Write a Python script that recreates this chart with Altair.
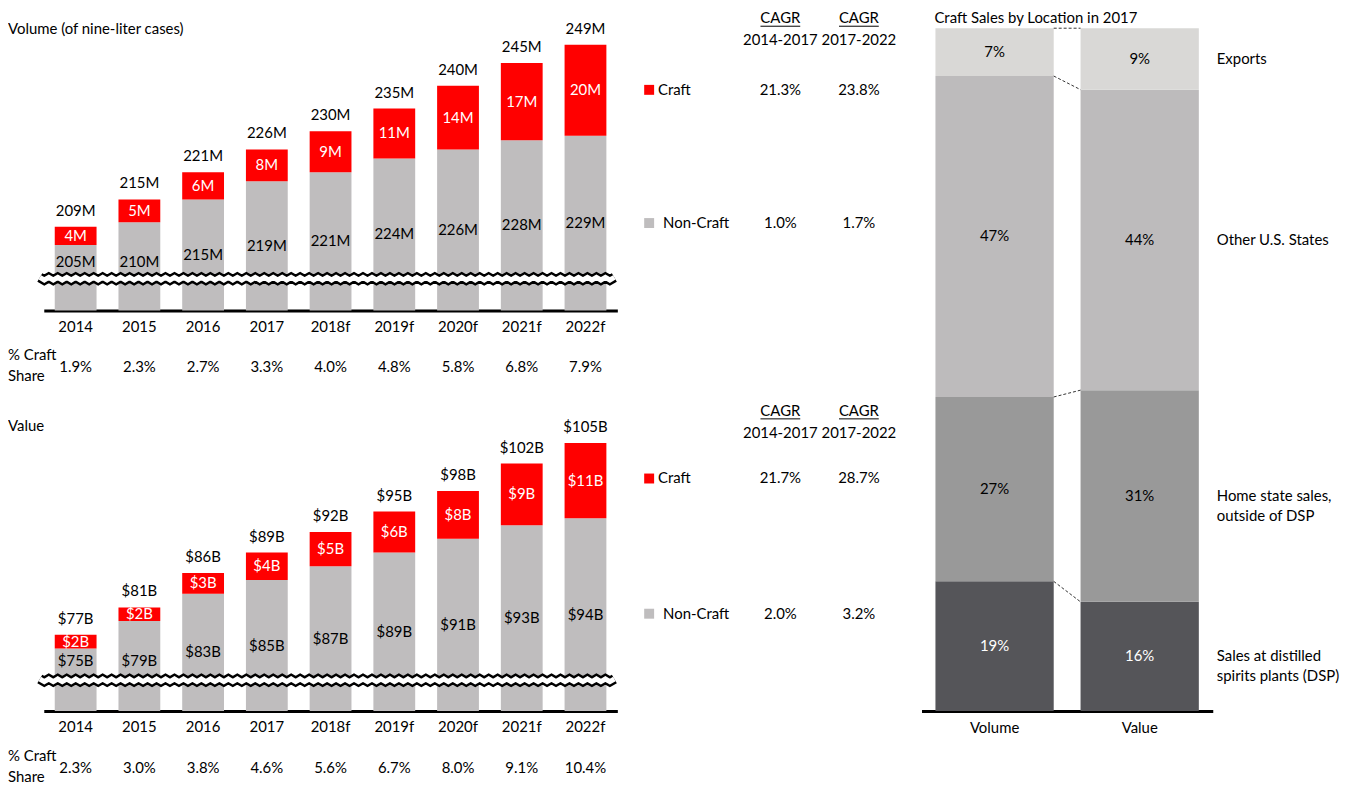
import altair as alt
import pandas as pd

# ---------------- data ----------------
years = ["2014", "2015", "2016", "2017", "2018f", "2019f", "2020f", "2021f", "2022f"]

vol_noncraft = [205, 210, 215, 219, 221, 224, 226, 228, 229]
vol_craft = [4, 5, 6, 8, 9, 11, 14, 17, 20]
vol_total = [209, 215, 221, 226, 230, 235, 240, 245, 249]
vol_share = ["1.9%", "2.3%", "2.7%", "3.3%", "4.0%", "4.8%", "5.8%", "6.8%", "7.9%"]

val_noncraft = [75, 79, 83, 85, 87, 89, 91, 93, 94]
val_craft = [2, 2, 3, 4, 5, 6, 8, 9, 11]
val_total = [77, 81, 86, 89, 92, 95, 98, 102, 105]
val_share = ["2.3%", "3.0%", "3.8%", "4.6%", "5.6%", "6.7%", "8.0%", "9.1%", "10.4%"]

cagr_headers = ["2014-2017", "2017-2022"]
vol_cagr_craft = ["21.3%", "23.8%"]
vol_cagr_non = ["1.0%", "1.7%"]
val_cagr_craft = ["21.7%", "28.7%"]
val_cagr_non = ["2.0%", "3.2%"]

loc_categories = ["Sales at distilled\nspirits plants (DSP)", "Home state sales,\noutside of DSP",
                  "Other U.S. States", "Exports"]
loc_colors = ["#555559", "#999999", "#BDBBBC", "#D9D8D6"]
loc_volume = [19, 27, 47, 7]
loc_value = [16, 31, 44, 9]
loc_measures = ["Volume", "Value"]

# ---------------- style ----------------
FONT = "Lato"
FS = 15
RED = "#FF0000"
GREY = "#BFBDBE"
INK = "#000000"
PANEL_W = 900
PANEL_H = 302
C1, C2 = 777, 856   # CAGR column centres


def tmark(ch, **kw):
    p = dict(font=FONT, fontSize=FS, color=INK, baseline="middle", align="center")
    p.update(kw)
    return ch.mark_text(**p)


def one(**cols):
    return alt.Chart(pd.DataFrame({k: [v] for k, v in cols.items()}))


def bar_panel(title, title_y, nc, craft, total, share, pre, suf, v0, px_per, brk,
              lab_floor, cagr_c, cagr_n, hdr_y, craft_y, non_y):
    vtop = v0 + PANEL_H / px_per
    df = pd.DataFrame({
        "year": years, "nc": nc, "craft": craft, "total": total, "share": share,
        "nc_lbl": [f"{pre}{v}{suf}" for v in nc],
        "craft_lbl": [f"{pre}{v}{suf}" for v in craft],
        "tot_lbl": [f"{pre}{v}{suf}" for v in total],
    })
    xs = alt.Scale(domain=years, range=[36, 613], paddingInner=0.344, paddingOuter=0.172)
    ys = alt.Scale(domain=[v0, vtop], zero=False, nice=False)
    xenc = alt.X("year:N", sort=years, scale=xs, title=None,
                 axis=alt.Axis(labelAngle=0, labelPadding=16, labelBaseline="middle",
                               ticks=False, tickSize=0, domainWidth=3, domainColor="black",
                               labelColor=INK, labelFont=FONT, labelFontSize=FS, grid=False))
    base = alt.Chart(df).encode(x=xenc)
    grey = base.mark_bar(color=GREY).encode(y=alt.Y("nc:Q", scale=ys, axis=None), y2=alt.datum(v0))
    red = base.mark_bar(color=RED).encode(y=alt.Y("total:Q", scale=ys, axis=None), y2="nc:Q")
    tot_txt = tmark(base, dy=-16).encode(y=alt.Y("total:Q", scale=ys, axis=None), text="tot_lbl:N")
    craft_txt = tmark(base.transform_calculate(mid="(datum.nc + datum.total) / 2"),
                      color="white").encode(y=alt.Y("mid:Q", scale=ys, axis=None), text="craft_lbl:N")
    nc_txt = tmark(base.transform_calculate(lp=f"max((datum.nc + {v0}) / 2, {lab_floor})")).encode(
        y=alt.Y("lp:Q", scale=ys, axis=None), text="nc_lbl:N")
    share_txt = tmark(base).encode(y=alt.value(359), text="share:N")
    bars = alt.layer(grey, red, tot_txt, craft_txt, nc_txt, share_txt)

    # axis-break zigzag
    N = 128
    amp = 1.3 / px_per
    zz = alt.Chart(alt.sequence(0, N + 1, as_="k")).transform_calculate(
        zy=f"{brk} + {amp} * (datum.k % 2 == 0 ? 1 : -1)").encode(
        x=alt.X("k:Q", scale=alt.Scale(domain=[0, N], range=[32, 610]), axis=None),
        y=alt.Y("zy:Q", scale=ys, axis=None), order="k:Q")
    deco = alt.layer(zz.mark_line(color="black", strokeWidth=10),
                     zz.mark_line(color="white", strokeWidth=5))

    # CAGR table
    tdf = pd.DataFrame({"col": [0, 1], "hdr": cagr_headers, "c": cagr_c, "n": cagr_n})
    tx = alt.X("col:O", scale=alt.Scale(type="point", domain=[0, 1], range=[C1, C2], padding=0), axis=None)
    tb = alt.Chart(tdf).encode(x=tx)
    table = alt.layer(
        tmark(tb).encode(y=alt.value(hdr_y), text=alt.value("CAGR")),
        tmark(tb).encode(y=alt.value(hdr_y + 22), text="hdr:N"),
        tmark(tb).encode(y=alt.value(craft_y), text="c:N"),
        tmark(tb).encode(y=alt.value(non_y), text="n:N"),
    )
    ul = [one(a=1).mark_rule(color=INK, strokeWidth=1).encode(
        x=alt.value(cx - 20), x2=alt.value(cx + 20), y=alt.value(hdr_y + 8)) for cx in (C1, C2)]

    others = [
        tmark(one(t=title), align="left").encode(x=alt.value(0), y=alt.value(title_y), text="t:N"),
        tmark(one(t="% Craft"), align="left").encode(x=alt.value(0), y=alt.value(347), text="t:N"),
        tmark(one(t="Share"), align="left").encode(x=alt.value(0), y=alt.value(368), text="t:N"),
        one(a=1).mark_square(size=100, color=RED, opacity=1).encode(x=alt.value(645), y=alt.value(craft_y)),
        one(a=1).mark_square(size=100, color=GREY, opacity=1).encode(x=alt.value(645), y=alt.value(non_y)),
        tmark(one(t="Craft"), align="left").encode(x=alt.value(654), y=alt.value(craft_y), text="t:N"),
        tmark(one(t="Non-Craft"), align="left").encode(x=alt.value(659), y=alt.value(non_y), text="t:N"),
    ]
    return alt.layer(bars, deco, table, *ul, *others).resolve_scale(x="independent").properties(
        width=PANEL_W, height=PANEL_H)


vol = bar_panel("Volume (of nine-liter cases)", 19, vol_noncraft, vol_craft, vol_total, vol_share,
                "", "M", 190.57, 4.575, 197.56, 201.3, vol_cagr_craft, vol_cagr_non,
                8, 80, 214)
val = bar_panel("Value", 15, val_noncraft, val_craft, val_total, val_share,
                "$", "B", 65.86, 6.893, 70.36, 73.2, val_cagr_craft, val_cagr_non,
                0, 68, 204)

# ---------------- right panel ----------------
RH = 705
rows = []
bounds = {m: [] for m in loc_measures}
for m, vals in zip(loc_measures, (loc_volume, loc_value)):
    cum = 0
    for i, (c, v) in enumerate(zip(loc_categories, vals)):
        rows.append(dict(m=m, cat=c, y0=cum, y1=cum + v, mid=cum + v / 2, lbl=f"{v}%",
                         dark=(i == 0)))
        cum += v
        bounds[m].append(cum)
rdf = pd.DataFrame(rows)
cdf = pd.DataFrame({"m": "Volume", "b": "Value", "cv": bounds["Volume"], "cw": bounds["Value"]})
ldf = rdf[rdf.m == "Value"]

xr = alt.Scale(domain=loc_measures, range=[19, 312], paddingInner=0.185, paddingOuter=0.096)
yr = alt.Scale(domain=[0, RH / 6.87], zero=False, nice=False)
raxis = alt.Axis(labelAngle=0, labelPadding=17, labelBaseline="middle", ticks=False, tickSize=0,
                 domainWidth=3, domainColor="black", labelColor=INK, labelFont=FONT,
                 labelFontSize=FS, grid=False)
rx = alt.X("m:N", sort=loc_measures, scale=xr, title=None, axis=raxis)
rbase = alt.Chart(rdf).encode(x=rx)
rbars = rbase.mark_bar().encode(
    y=alt.Y("y1:Q", scale=yr, axis=None), y2="y0:Q",
    color=alt.Color("cat:N", scale=alt.Scale(domain=loc_categories, range=loc_colors), legend=None))
rtxt = tmark(rbase).encode(
    y=alt.Y("mid:Q", scale=yr, axis=None), text="lbl:N",
    color=alt.condition("datum.dark", alt.value("white"), alt.value(INK)))
conn = alt.Chart(cdf).mark_rule(color="#333333", strokeWidth=1, strokeDash=[3, 2]).encode(
    x=alt.X("m:N", sort=loc_measures, scale=xr, bandPosition=1, title=None, axis=raxis),
    x2=alt.X2("b:N", bandPosition=0),
    y=alt.Y("cv:Q", scale=yr, axis=None), y2="cw:Q")
rlab = tmark(alt.Chart(ldf), align="left", lineBreak="\n", lineHeight=20).encode(
    x=alt.value(316), y=alt.Y("mid:Q", scale=yr, axis=None), text="cat:N")
rtitle = tmark(one(t="Craft Sales by Location in 2017"), align="left").encode(
    x=alt.value(32), y=alt.value(8), text="t:N")
right = alt.layer(rbars, rtxt, conn, rlab, rtitle).properties(width=424, height=RH)

left = alt.vconcat(vol, val, spacing=101, bounds="flush")
chart = alt.hconcat(left, right, spacing=0).properties(
    padding=0, background="white").configure_view(stroke=None)

chart.save("out.html", embed_options={"renderer": "svg", "actions": False})
